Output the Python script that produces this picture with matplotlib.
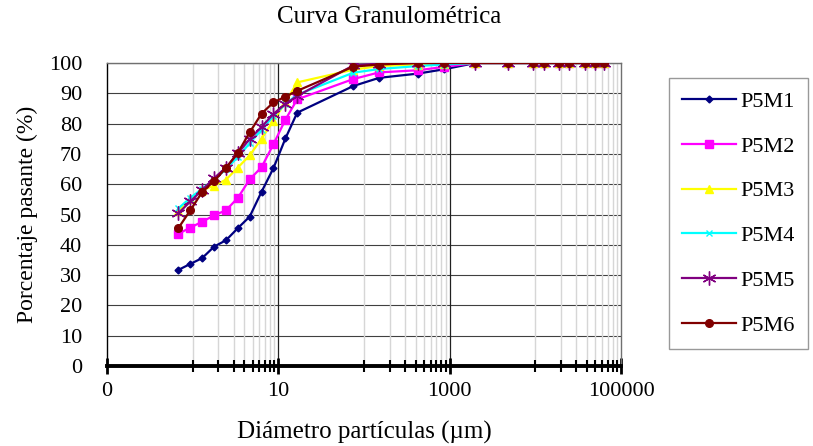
import matplotlib
matplotlib.use("Agg")
import matplotlib.pyplot as plt
from matplotlib.ticker import FixedLocator, FixedFormatter, NullFormatter

plt.rcParams['font.family'] = ['Liberation Serif', 'DejaVu Serif']

# Diametro de particulas (um) - hidrometro + tamices
diametro = [0.68, 0.94, 1.29, 1.78, 2.45, 3.37, 4.63, 6.37, 8.77, 12.1, 16.6,
            75, 150, 425, 850, 2000, 4750, 9500, 12500, 19000, 25000,
            37500, 50000, 63000]

# Porcentaje pasante por muestra
p5m1 = [31.7, 33.7, 35.6, 39.4, 41.5, 45.5, 49.3, 57.5, 65.3, 75.1, 83.6,
        92.4, 95.1, 96.5, 97.9, 100, 100, 100, 100, 100, 100, 100, 100, 100]
p5m2 = [43.6, 45.7, 47.6, 49.7, 51.4, 55.5, 61.6, 65.6, 73.2, 81.3, 88.0,
        94.7, 96.9, 97.6, 98.7, 100, 100, 100, 100, 100, 100, 100, 100, 100]
p5m3 = [51.0, 55.0, 58.0, 59.5, 61.5, 65.5, 69.5, 75.0, 81.0, 87.0, 93.6,
        97.8, 99.0, 99.5, 99.8, 100, 100, 100, 100, 100, 100, 100, 100, 100]
p5m4 = [52.0, 55.5, 58.5, 61.5, 65.0, 69.0, 73.5, 78.0, 82.5, 86.5, 89.5,
        96.8, 98.0, 99.0, 99.5, 100, 100, 100, 100, 100, 100, 100, 100, 100]
p5m5 = [50.4, 54.3, 58.1, 62.0, 65.5, 70.2, 74.9, 78.9, 83.2, 86.5, 89.1,
        99.2, 99.8, 100, 100, 100, 100, 100, 100, 100, 100, 100, 100, 100]
p5m6 = [45.5, 51.4, 57.4, 61.1, 65.3, 70.4, 77.1, 83.3, 87.0, 88.9, 90.8,
        98.8, 99.5, 100, 100, 100, 100, 100, 100, 100, 100, 100, 100, 100]

nombres = ['P5M1', 'P5M2', 'P5M3', 'P5M4', 'P5M5', 'P5M6']
colores = ['#000080', '#FF00FF', '#FFFF00', '#00FFFF', '#800080', '#800000']
marcadores = ['D', 's', '^', 'x', (6, 2, 0), 'o']
tamanos = [3.5, 5.5, 5.5, 4.5, 10, 5.5]

x_ticks = [0.1, 10, 1000, 100000]
x_labels = ['0', '10', '1000', '100000']
x_minor = [m * 10 ** e for e in (0, 2, 4) for m in range(1, 10)]

fig = plt.figure(figsize=(8.13, 4.46), dpi=100)
ax = fig.add_axes([107 / 813, 1 - 366 / 446, (621 - 107) / 813, (366 - 63) / 446])

for serie, nombre, color, mk, ms in zip([p5m1, p5m2, p5m3, p5m4, p5m5, p5m6],
                                        nombres, colores, marcadores, tamanos):
    ax.plot(diametro, serie, color=color, lw=1.6, marker=mk, ms=ms,
            mfc=color, mec=color, mew=1.0, label=nombre, zorder=3)

ax.set_xscale('log')
ax.set_xlim(0.1, 100000)
ax.set_ylim(0, 100)

ax.xaxis.set_major_locator(FixedLocator(x_ticks))
ax.xaxis.set_major_formatter(FixedFormatter(x_labels))
ax.xaxis.set_minor_locator(FixedLocator(x_minor))
ax.xaxis.set_minor_formatter(NullFormatter())
ax.set_yticks(range(0, 101, 10))

# rejilla
for v in range(10, 101, 10):
    ax.axhline(v, color='#404040', lw=0.8, zorder=1)
for v in x_minor:
    ax.axvline(v, color='#d6d6d6', lw=1.0, zorder=1)
for v in (10, 1000):
    ax.axvline(v, color='#202020', lw=0.9, zorder=1)

ax.tick_params(axis='x', which='major', direction='inout', length=11, width=2,
               labelsize=16, pad=6)
ax.tick_params(axis='x', which='minor', direction='inout', length=8, width=1.5)
ax.tick_params(axis='y', length=0, labelsize=16, pad=18)

ax.spines['bottom'].set_linewidth(2.8)
ax.spines['left'].set_linewidth(1.0)
for s in ('top', 'right'):
    ax.spines[s].set_color('#707070')
    ax.spines[s].set_linewidth(1.0)

ax.set_xlabel('Diámetro partículas (µm)', fontsize=18, labelpad=14)
ax.set_ylabel('Porcentaje pasante (%)', fontsize=17, labelpad=8)
fig.text(389 / 813, 1 - 17 / 446, 'Curva Granulométrica', fontsize=18,
         ha='center', va='center')

leg = ax.legend(loc='upper left', bbox_to_anchor=(669 / 813, 1 - 78 / 446),
                bbox_transform=fig.transFigure, borderaxespad=0, fontsize=16,
                fancybox=False, frameon=True, handlelength=2.4,
                handletextpad=0.2, labelspacing=1.09, borderpad=0.6)
leg.get_frame().set_edgecolor('#808080')
leg.get_frame().set_linewidth(1.0)

fig.savefig('out.png', dpi=100)
